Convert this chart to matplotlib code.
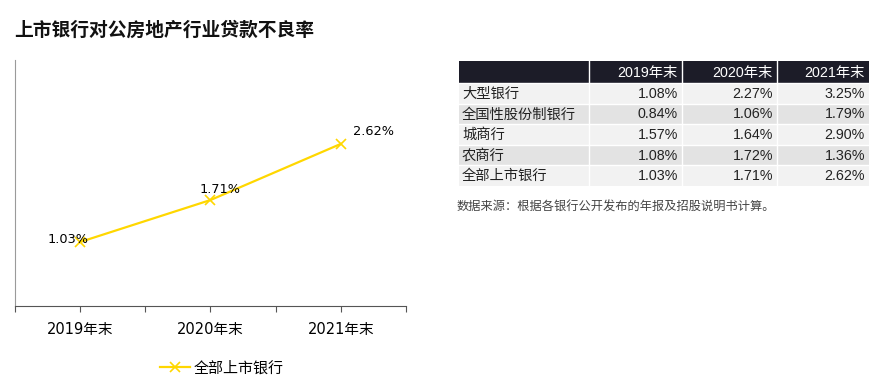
import matplotlib
matplotlib.use("Agg")
import matplotlib.pyplot as plt
from matplotlib.patches import Rectangle

plt.rcParams['font.family'] = ['DejaVu Sans', 'Noto Sans CJK SC']

# data
title = "上市银行对公房地产行业贷款不良率"
years = ["2019年末", "2020年末", "2021年末"]
all_banks = [1.03, 1.71, 2.62]
series_name = "全部上市银行"

bank_types = ["大型银行", "全国性股份制银行", "城商行", "农商行", "全部上市银行"]
rate_2019 = ["1.08%", "0.84%", "1.57%", "1.08%", "1.03%"]
rate_2020 = ["2.27%", "1.06%", "1.64%", "1.72%", "1.71%"]
rate_2021 = ["3.25%", "1.79%", "2.90%", "1.36%", "2.62%"]
source = "数据来源：根据各银行公开发布的年报及招股说明书计算。"

yellow = "#FFD700"
W, H = 879, 382
fig = plt.figure(figsize=(W / 100, H / 100), dpi=100)

fig.text(14 / W, 1 - 30 / H, title, fontsize=13.5, fontweight='bold',
         family=['Noto Sans CJK SC'], va='center', ha='left', color='#111111')

# line chart
ax = fig.add_axes([15 / W, 1 - 305.5 / H, 391 / W, 245.5 / H])
x = list(range(len(years)))
line, = ax.plot(x, all_banks, color=yellow, lw=1.6, marker='x', ms=7, mew=1.2,
                label=series_name)
ax.set_xlim(-0.5, len(years) - 0.5)
ax.set_ylim(0, 3.98)
ax.set_yticks([])
ticks = [i * 0.5 - 0.5 for i in range(2 * len(years) + 1)]
ax.set_xticks(ticks)
ax.set_xticklabels(["" if i % 2 == 0 else years[i // 2] for i in range(len(ticks))])
ax.tick_params(axis='x', length=4, color='#555555', pad=8, labelsize=10.5,
               labelcolor='#000000')
for s in ['top', 'right']:
    ax.spines[s].set_visible(False)
ax.spines['left'].set_color('#9a9a9a')
ax.spines['bottom'].set_color('#555555')
ax.patch.set_alpha(0)

# label offsets in points: (dx, dy, ha, va)
offsets = [(6, 2, 'right', 'center'), (7, 3, 'center', 'bottom'), (9, 4.5, 'left', 'bottom')]
for xi, v, (dx, dy, ha, va) in zip(x, all_banks, offsets):
    ax.annotate(f"{v:.2f}%", (xi, v), xytext=(dx, dy), textcoords='offset points',
                ha=ha, va=va, fontsize=9.3, color='#000000')

fig.legend(handles=[line], loc='center', bbox_to_anchor=(222 / W, 1 - 368 / H),
           frameon=False, fontsize=10.8, handlelength=2.0, handletextpad=0.2)

# table
tax = fig.add_axes([0, 0, 1, 1])
tax.set_xlim(0, W)
tax.set_ylim(H, 0)
tax.axis('off')
col_edges = [459, 589, 682, 777, 869]
header_top, header_bot = 61, 83
row_h = 20.6
tab_font = ['Liberation Sans', 'Noto Sans CJK SC']

tax.add_patch(Rectangle((col_edges[0], header_top), col_edges[-1] - col_edges[0],
                        header_bot - header_top, color='#1c1c28', lw=0))
for j, yr in enumerate(years):
    tax.text(col_edges[j + 2] - 4, (header_top + header_bot) / 2 + 0.5, yr,
             ha='right', va='center', color='white', fontsize=10.3, family=tab_font)

columns = [rate_2019, rate_2020, rate_2021]
for i, name in enumerate(bank_types):
    top = header_bot + i * row_h
    bg = '#f2f2f2' if i % 2 == 0 else '#e3e3e3'
    tax.add_patch(Rectangle((col_edges[0], top), col_edges[-1] - col_edges[0],
                            row_h, color=bg, lw=0))
    cy = top + row_h / 2 + 0.5
    tax.text(col_edges[0] + 3, cy, name, ha='left', va='center', fontsize=10.3,
             color='#222222', family=tab_font)
    for j, col in enumerate(columns):
        tax.text(col_edges[j + 2] - 4, cy, col[i], ha='right', va='center',
                 fontsize=10.3, color='#222222', family=tab_font)
    tax.plot([col_edges[0], col_edges[-1]], [top, top], color='white', lw=1)

table_bot = header_bot + len(bank_types) * row_h
for xe in col_edges[1:-1]:
    tax.plot([xe, xe], [header_top, table_bot], color='white', lw=1)

tax.text(457, 208, source, ha='left', va='center', fontsize=8.8, color='#444444',
         family=tab_font)

fig.savefig("out.png", dpi=100)
